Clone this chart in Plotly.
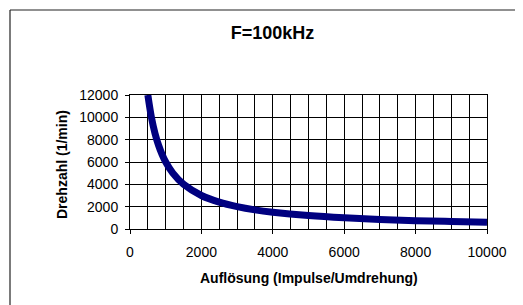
import plotly.graph_objects as go

aufloesung = [500, 600, 700, 800, 900, 1000, 1200, 1500, 2000, 2500, 3000, 3500, 4000, 5000, 6000, 7000, 8000, 9000, 10000]
drehzahl = [12000, 10000, 8570, 7500, 6670, 6000, 5000, 4000, 3000, 2400, 2000, 1710, 1500, 1200, 1000, 860, 750, 670, 600]
x_ticks = [0, 2000, 4000, 6000, 8000, 10000]
y_ticks = [0, 2000, 4000, 6000, 8000, 10000, 12000]

# page is offset by 8px body margin; work in figure coords
W, H = 515, 297
L, R, T, B = 122, 479, 87, 221
pw, ph = R - L, B - T

fig = go.Figure()
fig.add_trace(go.Scatter(x=aufloesung, y=drehzahl, mode="lines",
                         line=dict(color="#000080", width=7, shape="spline"),
                         showlegend=False, cliponaxis=True))

font = dict(family="Liberation Sans, Arial, sans-serif", color="black")
fig.update_layout(
    width=W, height=H,
    margin=dict(l=L, r=W - R, t=T, b=H - B, pad=0),
    paper_bgcolor="white", plot_bgcolor="white",
    font=dict(size=14, **font),
    title=dict(text="<b>F=100kHz</b>", x=264.5 / W, xanchor="center",
               y=1 - 25 / H, yanchor="middle", font=dict(size=18, **font)),
    xaxis=dict(range=[0, 10000], tickvals=x_ticks, ticktext=[str(v) for v in x_ticks],
               ticks="outside", ticklen=4, tickcolor="black",
               showgrid=False, zeroline=False,
               minor=dict(dtick=500, tick0=0, showgrid=True, gridcolor="black", gridwidth=1, ticks=""),
               showline=True, linecolor="black", linewidth=1, mirror=True,
               tickfont=dict(size=14, **font), ticklabelstandoff=6),
    yaxis=dict(range=[0, 12000], tickvals=y_ticks, ticktext=[str(v) for v in y_ticks],
               ticks="outside", ticklen=4, tickcolor="black",
               showgrid=True, gridcolor="black", gridwidth=1, zeroline=False,
               showline=True, linecolor="black", linewidth=1, mirror=True,
               tickfont=dict(size=14, **font), ticklabelstandoff=4),
)

fig.add_annotation(text="<b>Drehzahl (1/min)</b>", xref="paper", yref="paper",
                   x=(54 - L) / pw, y=(B - 157) / ph, xanchor="center", yanchor="middle",
                   textangle=-90, showarrow=False, font=dict(size=14, **font))
fig.add_annotation(text="<b>Auflösung (Impulse/Umdrehung)</b>", xref="paper", yref="paper",
                   x=0.5, y=(B - 270) / ph, xanchor="center", yanchor="middle",
                   showarrow=False, font=dict(size=14, **font))

# outer chart-area frame (top and left edges visible)
frame = dict(color="#222", width=1.2)
fig.add_shape(type="line", xref="paper", yref="paper",
              x0=(2 - L) / pw, x1=(560 - L) / pw, y0=(B - 2) / ph, y1=(B - 2) / ph, line=frame)
fig.add_shape(type="line", xref="paper", yref="paper",
              x0=(2 - L) / pw, x1=(2 - L) / pw, y0=(B - 2) / ph, y1=(B - 340) / ph, line=frame)

fig.write_html("out.html")
